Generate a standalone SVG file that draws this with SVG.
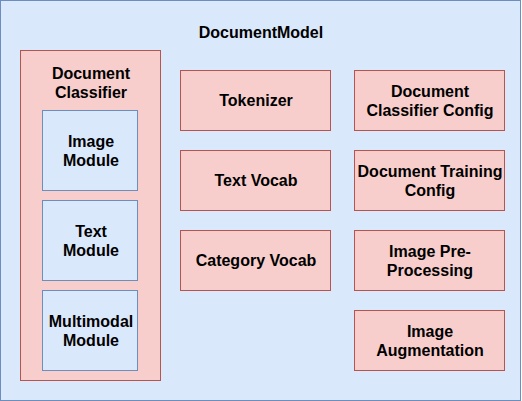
<svg xmlns="http://www.w3.org/2000/svg" width="522" height="401" viewBox="0 0 522 401">
<style>
.blue{fill:#dae8fc;stroke:#6c8ebf;stroke-width:1}
.red{fill:#f8cecc;stroke:#b85450;stroke-width:1}
text{font-family:"Liberation Sans",Arial,sans-serif;font-size:16px;font-weight:bold;fill:#000;text-anchor:middle}
</style>
<g id="DocumentModel">
<rect class="blue" x="0.5" y="0.5" width="520" height="400"/>
<text x="261" y="38">DocumentModel</text>
</g>
<g id="DocumentClassifier">
<rect class="red" x="20.5" y="50.5" width="140" height="330"/>
<text x="91" y="79">Document</text>
<text x="91" y="98">Classifier</text>
</g>
<g id="ImageModule">
<rect class="blue" x="42.5" y="110.5" width="95" height="80"/>
<text x="91" y="147">Image</text>
<text x="91" y="166">Module</text>
</g>
<g id="TextModule">
<rect class="blue" x="42.5" y="200.5" width="95" height="80"/>
<text x="91" y="237">Text</text>
<text x="91" y="256">Module</text>
</g>
<g id="MultimodalModule">
<rect class="blue" x="42.5" y="290.5" width="95" height="80"/>
<text x="91" y="327">Multimodal</text>
<text x="91" y="346">Module</text>
</g>
<g id="Tokenizer">
<rect class="red" x="180.5" y="70.5" width="150" height="60"/>
<text x="256" y="106">Tokenizer</text>
</g>
<g id="TextVocab">
<rect class="red" x="180.5" y="150.5" width="150" height="60"/>
<text x="256" y="186">Text Vocab</text>
</g>
<g id="CategoryVocab">
<rect class="red" x="180.5" y="230.5" width="150" height="60"/>
<text x="256" y="266">Category Vocab</text>
</g>
<g id="DocumentClassifierConfig">
<rect class="red" x="354.5" y="70.5" width="150" height="60"/>
<text x="430" y="97">Document</text>
<text x="430" y="116">Classifier Config</text>
</g>
<g id="DocumentTrainingConfig">
<rect class="red" x="354.5" y="150.5" width="150" height="60"/>
<text x="430" y="177">Document Training</text>
<text x="430" y="196">Config</text>
</g>
<g id="ImagePreProcessing">
<rect class="red" x="354.5" y="230.5" width="150" height="60"/>
<text x="430" y="257">Image Pre-</text>
<text x="430" y="276">Processing</text>
</g>
<g id="ImageAugmentation">
<rect class="red" x="354.5" y="310.5" width="150" height="60"/>
<text x="430" y="337">Image</text>
<text x="430" y="356">Augmentation</text>
</g>
<g id="connectors"></g>
</svg>
